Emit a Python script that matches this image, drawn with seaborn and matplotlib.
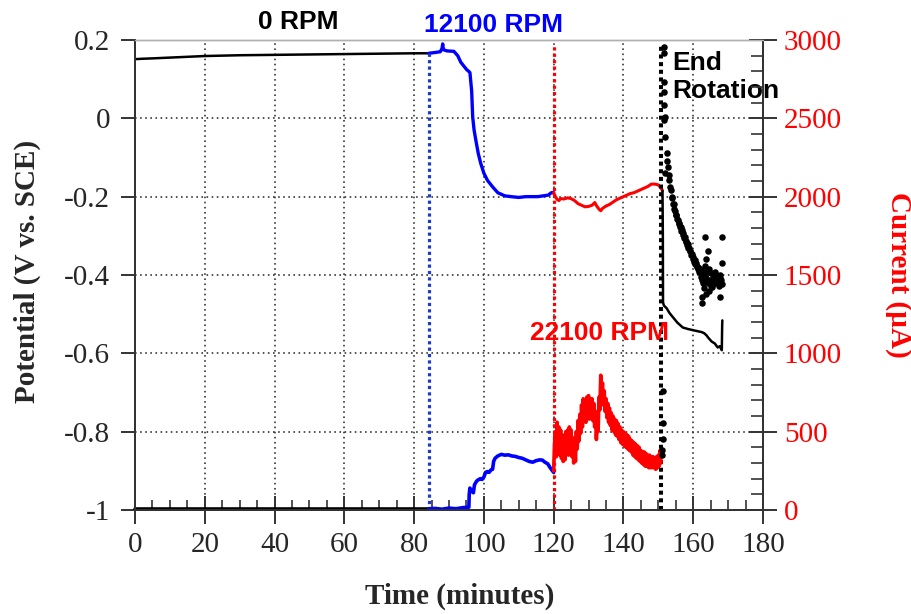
import numpy as np
import pandas as pd
import matplotlib
matplotlib.use("Agg")
import matplotlib.pyplot as plt
from matplotlib.ticker import MultipleLocator, FuncFormatter
import seaborn as sns

# ---------------- data ----------------
# Potential (V vs SCE)
pot_black1_t = [0, 2, 5, 10, 15, 20, 25, 30, 40, 50, 60, 70, 80, 84.2]
pot_black1_v = [0.151, 0.152, 0.153, 0.155, 0.157, 0.159, 0.160, 0.161, 0.162, 0.163, 0.164, 0.165, 0.166, 0.166]

pot_blue_t = [84.2, 86, 87.5, 88, 88.2, 88.4, 89.5, 91.4, 92.5, 93.4, 95, 96, 96.5, 96.8, 97.2, 97.7,
              98.4, 99.1, 100, 101, 102.5, 104, 106, 107.8, 110, 112, 115.5, 117, 118.5, 119.3, 120]
pot_blue_v = [0.166, 0.168, 0.170, 0.178, 0.190, 0.175, 0.172, 0.171, 0.160, 0.143, 0.125, 0.117, 0.07,
              0.003, -0.03, -0.056, -0.09, -0.115, -0.14, -0.158, -0.175, -0.19, -0.198, -0.2, -0.202,
              -0.2, -0.2, -0.198, -0.196, -0.19, -0.19]

pot_red_t = [120.0, 120.5, 121.0, 121.5, 122.0, 123.0, 124.0, 125.0, 126.0, 127.0, 128.0, 129.0, 130.0,
             131.0, 131.8, 132.2, 133.0, 133.5, 134.0, 135.0, 136.0, 137.0, 138.0, 139.0, 140.0, 141.0,
             142.0, 143.0, 144.0, 145.0, 146.0, 147.0, 148.0, 149.0, 150.0, 150.8, 151.2]
pot_red_v = [-0.190, -0.200, -0.207, -0.210, -0.205, -0.206, -0.203, -0.205, -0.210, -0.218, -0.222,
             -0.226, -0.225, -0.222, -0.215, -0.222, -0.232, -0.236, -0.230, -0.224, -0.220, -0.214,
             -0.208, -0.204, -0.200, -0.196, -0.192, -0.190, -0.186, -0.182, -0.178, -0.174, -0.168,
             -0.168, -0.170, -0.178, -0.185]

pot_black2_t = [151.2, 151.3, 151.35, 151.6, 152.4, 153.2, 154.2, 155.5, 157, 158.5, 160, 161.5, 162.5,
                163.2, 163.8, 164.3, 165.3, 166.2, 167, 167.6, 168.2, 168.25, 168.3, 168.35]
pot_black2_v = [-0.185, -0.30, -0.47, -0.478, -0.485, -0.497, -0.508, -0.522, -0.534, -0.538, -0.541,
                -0.544, -0.546, -0.549, -0.554, -0.560, -0.570, -0.575, -0.585, -0.582, -0.592, -0.56,
                -0.53, -0.516]

# Current (uA)
cur_black1_t = [0, 20, 40, 60, 84.2]
cur_black1_v = [5, 5, 5, 5, 5]

cur_blue_t = [84.2, 86, 88, 90, 92, 94, 95.7, 95.8, 96, 96.5, 97, 97.3, 97.8, 98.2, 99, 99.5, 100, 100.5,
              101, 101.5, 102, 102.5, 102.8, 103.2, 104, 105, 106, 107, 108, 109, 110, 111, 112, 113,
              114, 115, 116, 116.8, 117.5, 118.3, 119, 120]
cur_blue_v = [8, 10, 5, 12, 8, 15, 18, 100, 140, 120, 110, 160, 180, 190, 200, 195, 210, 240, 245, 240,
              255, 260, 310, 330, 345, 355, 350, 352, 345, 342, 335, 330, 320, 310, 305, 315, 320, 318,
              305, 295, 270, 240]

cur_red_t = [120.0 + 0.25 * i for i in range(124)]
cur_red_v = [250, 420, 500, 340, 560, 390, 530, 350, 510, 330, 480, 310, 450, 320, 500, 360,
             510, 350, 530, 380, 510, 340, 460, 300, 430, 310, 500, 390, 570, 440, 610, 490,
             670, 530, 710, 570, 690, 560, 720, 590, 730, 580, 710, 590, 710, 570, 680, 530,
             630, 450, 590, 500, 720, 640, 860, 740, 810, 670, 760, 630, 710, 590, 680, 560,
             650, 540, 620, 510, 600, 500, 580, 480, 570, 470, 550, 450, 530, 430, 510, 420,
             500, 410, 490, 400, 480, 390, 470, 380, 450, 370, 440, 350, 430, 340, 420, 330,
             410, 320, 400, 310, 380, 300, 370, 290, 370, 280, 360, 280, 350, 270, 350, 270,
             340, 270, 340, 270, 330, 260, 340, 270, 350, 280, 380, 300]

cur_black2_t = ([151.2, 151.2, 151.25, 151.3, 151.3, 151.5, 151.55, 151.6, 151.7, 151.75, 151.85, 151.7,
                 151.9, 151.9]
                + [152.4 + 0.2 * i for i in range(49)]
                + [162.2 + 0.2 * i for i in range(31)]
                + [163.5, 168.2, 164.2, 168.2, 162.5, 162.5, 167.6, 165.3, 163.8])
cur_black2_v = ([350, 380, 450, 555, 760, 2955, 2915, 2730, 2670, 2585, 2510, 2490, 2380, 2150]
                + [2280, 2230, 2190, 2135, 2105, 2060, 2045, 2000, 1990, 1955, 1950, 1920, 1910, 1885,
                   1880, 1855, 1852, 1830, 1825, 1805, 1805, 1780, 1790, 1755, 1765, 1735, 1740, 1712,
                   1718, 1690, 1695, 1670, 1675, 1650, 1655, 1630, 1636, 1605, 1612, 1585, 1598, 1570,
                   1578, 1550, 1560, 1535, 1545, 1520, 1525]
                + [1490, 1530, 1470, 1450, 1500, 1420, 1560, 1480, 1600, 1520, 1450, 1400, 1540, 1470,
                   1430, 1510, 1460, 1500, 1440, 1480, 1520, 1470, 1500, 1450, 1490, 1460, 1430, 1480,
                   1500, 1470, 1440]
                + [1745, 1745, 1650, 1575, 1360, 1320, 1360, 1425, 1380])

# Rotation-change markers
event_times = [84.2, 120.0, 150.9]
event_tops = [0.168, 0.185, 0.19]
event_colors = ["#1a3cc8", "#ff0000", "#000000"]

x_ticks = [0, 20, 40, 60, 80, 100, 120, 140, 160, 180]
pot_ticks = [0.2, 0, -0.2, -0.4, -0.6, -0.8, -1]
cur_ticks = [0, 500, 1000, 1500, 2000, 2500, 3000]

# ---------------- style ----------------
sns.set_theme(style="white")
plt.rcParams["font.family"] = ["Liberation Serif", "DejaVu Serif"]
plt.rcParams["axes.unicode_minus"] = False

fig = plt.figure(figsize=(9.12, 6.14), dpi=100)
ax = fig.add_axes([0.148, 0.1694, 0.6886, 0.7655])
ax2 = ax.twinx()

BLUE = "#0000ff"
RED = "#ff0000"

# grid
ax.set_xlim(0, 180)
ax.set_ylim(-1, 0.2)
ax2.set_ylim(0, 3000)
ax.xaxis.set_major_locator(MultipleLocator(20))
ax.xaxis.set_minor_locator(MultipleLocator(5))
ax.yaxis.set_major_locator(MultipleLocator(0.2))
ax2.yaxis.set_major_locator(MultipleLocator(500))
ax2.yaxis.set_minor_locator(MultipleLocator(100))
ax.grid(True, which="major", color="#2a2a2a", linestyle=(0, (1, 2.2)), linewidth=1.15)
ax.set_axisbelow(True)
ax2.grid(False)

# event markers
ax.vlines(event_times, [-1, -1, -1], event_tops, colors=event_colors,
          linestyles=[(0, (1, 1)), (0, (1, 1)), (0, (1, 0.9))], linewidths=[2.3, 2.3, 2.9], zorder=3)

# potential lines
sns.lineplot(x=pot_black1_t, y=pot_black1_v, ax=ax, color="black", lw=1.8, sort=False, estimator=None)
sns.lineplot(x=pot_blue_t, y=pot_blue_v, ax=ax, color=BLUE, lw=2.4, sort=False, estimator=None)
sns.lineplot(x=pot_red_t, y=pot_red_v, ax=ax, color=RED, lw=2.2, sort=False, estimator=None)
sns.lineplot(x=pot_black2_t, y=pot_black2_v, ax=ax, color="black", lw=1.8, sort=False, estimator=None)

# current lines
sns.lineplot(x=cur_black1_t, y=cur_black1_v, ax=ax2, color="black", lw=2.6, sort=False, estimator=None,
             clip_on=False)
sns.lineplot(x=cur_blue_t, y=cur_blue_v, ax=ax2, color=BLUE, lw=2.6, sort=False, estimator=None)
sns.lineplot(x=cur_red_t, y=cur_red_v, ax=ax2, color=RED, lw=2.6, sort=False, estimator=None)
sns.scatterplot(x=cur_black2_t, y=cur_black2_v, ax=ax2, color="black", s=22, linewidth=0, zorder=4)

# spines
for s in ["left", "bottom", "right"]:
    ax.spines[s].set_color("#333333")
    ax.spines[s].set_linewidth(1.4)
    ax2.spines[s].set_color("#333333")
    ax2.spines[s].set_linewidth(1.4)
ax.spines["top"].set_color("#b0b0b0")
ax2.spines["top"].set_color("#b0b0b0")
ax.spines["top"].set_linewidth(1.0)
ax2.spines["top"].set_linewidth(1.0)

# ticks
ax.set_xticks(x_ticks)
ax.set_yticks(pot_ticks)
ax2.set_yticks(cur_ticks)
fmt = FuncFormatter(lambda v, p: "%g" % round(v, 3))
ax.yaxis.set_major_formatter(fmt)
ax.tick_params(axis="x", which="major", direction="inout", length=20, width=1.4, color="#333333",
               labelsize=21, pad=6, bottom=True)
ax.tick_params(axis="x", which="minor", direction="in", length=7, width=1.2, color="#333333", bottom=True)
ax.tick_params(axis="y", which="major", direction="out", length=10, width=1.4, color="#333333",
               labelsize=21, pad=8, left=True)
ax2.tick_params(axis="y", which="major", direction="inout", length=20, width=1.4, color="#333333",
                labelsize=21, pad=5, labelcolor=RED, right=True)
ax2.tick_params(axis="y", which="minor", direction="in", length=9, width=1.2, color="#333333", right=True)

# labels
ax.set_xlabel("Time (minutes)", fontsize=21, fontweight="bold")
ax.xaxis.set_label_coords(0.517, -0.155)
ax.set_ylabel("Potential (V vs. SCE)", fontsize=21, fontweight="bold")
ax.yaxis.set_label_coords(-0.150, 0.508)
ax2.set_ylabel("Current (\u00b5A)", fontsize=21, fontweight="bold", color=RED, rotation=270,
               va="bottom")
ax2.yaxis.set_label_coords(1.195, 0.50)

# annotations
ann = dict(fontsize=19, fontweight="bold", family=["Liberation Sans", "DejaVu Sans"], clip_on=False)
ax.text(46.7, 0.245, "0 RPM", color="black", ha="center", va="center", **ann)
ax.text(102.9, 0.237, "12100 RPM", color=BLUE, ha="center", va="center", **ann)
ax.text(133.0, -0.549, "22100 RPM", color=RED, ha="center", va="center", **ann)
ax.text(153.9, 0.106, "End\nRotation", color="black", ha="left", va="center", linespacing=1.2, **ann)

fig.savefig("out.png", dpi=100)
